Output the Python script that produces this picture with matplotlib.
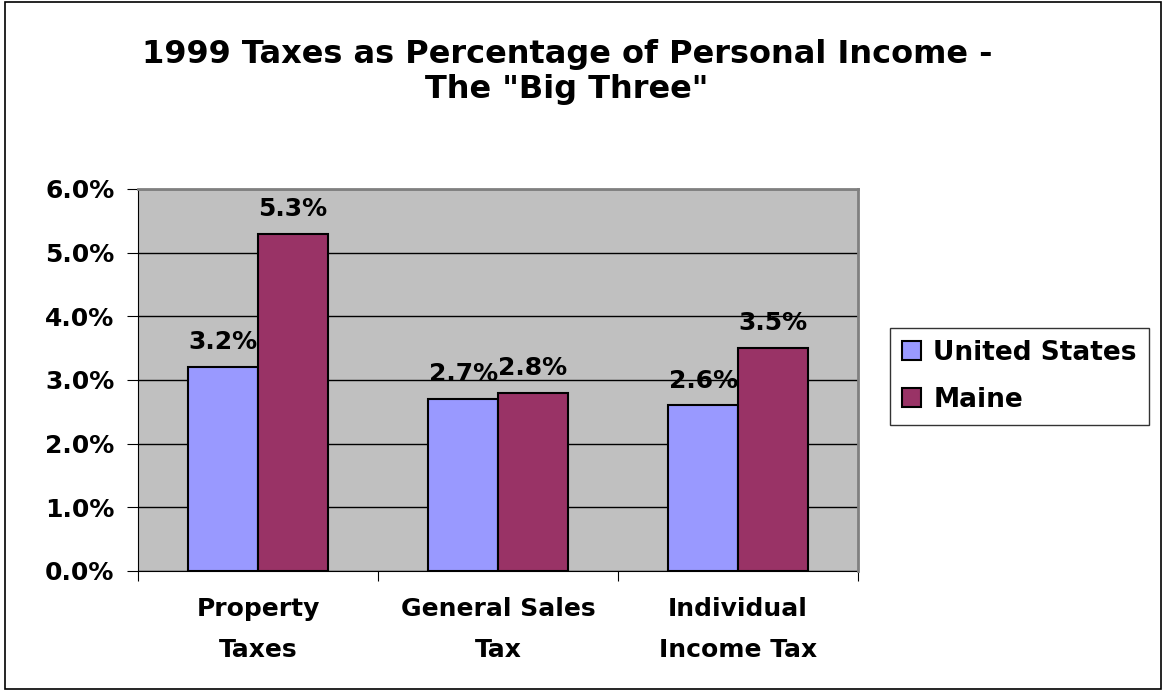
import matplotlib
matplotlib.use("Agg")
import matplotlib.pyplot as plt
import numpy as np
from matplotlib.patches import Rectangle

categories = ["Property\nTaxes", "General Sales\nTax", "Individual\nIncome Tax"]
series_names = ["United States", "Maine"]
us_values = [3.2, 2.7, 2.6]
maine_values = [5.3, 2.8, 3.5]
yticks = [0, 1, 2, 3, 4, 5, 6]

colors = ["#9999FF", "#993366"]

plt.rcParams["font.family"] = ["DejaVu Sans"]
plt.rcParams["font.weight"] = "bold"

fig = plt.figure(figsize=(11.64, 6.91), dpi=100)
fig.patches.append(Rectangle((0.004, 0.003), 0.993, 0.994, transform=fig.transFigure,
                             fill=False, edgecolor="black", linewidth=1.2))

ax = fig.add_axes([0.1186, 0.1737, 0.6186, 0.5528])
ax.set_facecolor("#C0C0C0")

x = np.arange(len(categories))
w = 0.29
b1 = ax.bar(x - w / 2, us_values, w, color=colors[0], edgecolor="black", linewidth=1.5,
            label=series_names[0], zorder=3)
b2 = ax.bar(x + w / 2, maine_values, w, color=colors[1], edgecolor="black", linewidth=1.5,
            label=series_names[1], zorder=3)

for bars, vals in ((b1, us_values), (b2, maine_values)):
    for rect, v in zip(bars, vals):
        ax.text(rect.get_x() + rect.get_width() / 2, v + 0.28, f"{v:.1f}%",
                ha="center", va="baseline", fontsize=18, fontweight="bold")

ax.set_xlim(-0.5, 2.5)
ax.set_ylim(0, 6)
ax.set_yticks(yticks)
ax.set_yticklabels([f"{t:.1f}%" for t in yticks], fontsize=18, fontweight="bold")
ax.yaxis.grid(True, color="black", linewidth=1)
ax.set_axisbelow(True)

ax.set_xticks([-0.5, 0.5, 1.5, 2.5])
ax.set_xticklabels([])
ax.set_xticks(x, minor=True)
ax.set_xticklabels(categories, minor=True, fontsize=18, fontweight="bold", linespacing=1.85)
ax.tick_params(axis="x", which="minor", length=0, pad=19)
ax.tick_params(axis="x", which="major", length=7, direction="out", color="black")
ax.tick_params(axis="y", length=8, direction="out", pad=9)

for s in ("top", "right"):
    ax.spines[s].set_color("#808080")
    ax.spines[s].set_linewidth(2)
    ax.spines[s].set_zorder(4)
ax.spines["left"].set_color("black")
ax.spines["bottom"].set_color("black")

fig.text(0.487, 0.896, '1999 Taxes as Percentage of Personal Income -\nThe "Big Three"',
         ha="center", va="center", fontsize=23, fontweight="bold", linespacing=1.15)

leg = ax.legend(loc="center left", bbox_to_anchor=(1.044, 0.51), fontsize=19, frameon=True,
                fancybox=False, edgecolor="black", handlelength=0.75, handleheight=0.75,
                handletextpad=0.45, borderpad=0.45, labelspacing=0.8, borderaxespad=0)
leg.get_frame().set_linewidth(1)
for t in leg.get_texts():
    t.set_fontweight("bold")

fig.savefig("out.png", dpi=100)
